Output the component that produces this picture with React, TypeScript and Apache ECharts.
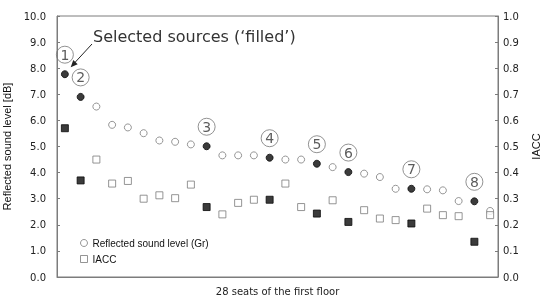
import React, { useEffect, useRef } from "react";
import * as echarts from "echarts";

const seats = ["1","2","3","4","5","6","7","8","9","10","11","12","13","14","15","16","17","18","19","20","21","22","23","24","25","26","27","28"];
const reflectedLevel = [7.77, 6.90, 6.53, 5.83, 5.73, 5.51, 5.23, 5.18, 5.08, 5.01, 4.66, 4.66, 4.66, 4.57, 4.50, 4.50, 4.34, 4.21, 4.02, 3.96, 3.83, 3.38, 3.38, 3.36, 3.32, 2.91, 2.90, 2.53];
const iacc = [0.570, 0.370, 0.450, 0.358, 0.368, 0.300, 0.313, 0.302, 0.354, 0.268, 0.240, 0.284, 0.296, 0.296, 0.358, 0.268, 0.243, 0.294, 0.211, 0.256, 0.224, 0.218, 0.205, 0.262, 0.237, 0.233, 0.135, 0.237];
const selectedSeats = ["1", "2", "10", "14", "17", "19", "23", "27"];
const leftTicks = { min: 0, max: 10, interval: 1 };
const rightTicks = { min: 0, max: 1, interval: 0.1 };
const seriesNames = ["Reflected sound level (Gr)", "IACC"];

const OPEN = "#7a7a7a";
const FILL = "#0a0a0a";

export default function App() {
  const ref = useRef<HTMLDivElement>(null);
  useEffect(() => {
    if (!ref.current) return;
    const chart = echarts.init(ref.current, undefined, { renderer: "svg" });
    const selIndex = (i: number) => selectedSeats.indexOf(seats[i]);
    const lvlData = reflectedLevel.map((v, i) => {
      const s = selIndex(i);
      return s >= 0
        ? { value: v, itemStyle: { color: FILL, borderColor: FILL }, label: { show: true } }
        : { value: v, itemStyle: { color: "#fff", borderColor: OPEN } };
    });
    const iaccData = iacc.map((v, i) => {
      const s = selIndex(i);
      return s >= 0
        ? { value: v, itemStyle: { color: FILL, borderColor: FILL } }
        : { value: v, itemStyle: { color: "#fff", borderColor: OPEN } };
    });
    const axisColor = "#7c7c7c";
    chart.setOption({
      animation: false,
      grid: {
        left: 57, right: 43, top: 16, bottom: 20,
        show: true, borderColor: axisColor, borderWidth: 1,
        containLabel: false, outerBoundsMode: "none",
      },
      legend: {
        orient: "vertical",
        left: 80,
        top: 238,
        padding: 0,
        itemWidth: 7,
        itemHeight: 7,
        itemGap: 6,
        textStyle: { fontFamily: "Liberation Sans", fontSize: 10, color: "#111" },
        data: [
          { name: seriesNames[0], icon: "circle", itemStyle: { color: "#fff", borderColor: OPEN, borderWidth: 1 } },
          { name: seriesNames[1], icon: "rect", itemStyle: { color: "#fff", borderColor: OPEN, borderWidth: 1 } },
        ],
      },
      xAxis: {
        type: "category",
        data: seats,
        boundaryGap: true,
        axisLine: { lineStyle: { color: axisColor, width: 1 } },
        axisTick: { show: false },
        axisLabel: { show: false },
        splitLine: { show: false },
        name: "28 seats of the first floor",
        nameLocation: "middle",
        nameGap: 9,
        nameTextStyle: { fontFamily: "DejaVu Sans", fontSize: 10, color: "#222" },
      },
      yAxis: [
        {
          type: "value",
          position: "left",
          min: leftTicks.min,
          max: leftTicks.max,
          interval: leftTicks.interval,
          axisLine: { show: true, lineStyle: { color: axisColor, width: 1 } },
          axisTick: { show: true, length: 3, inside: true, lineStyle: { color: axisColor } },
          axisLabel: { margin: 11, fontFamily: "DejaVu Sans", fontSize: 10, color: "#222", formatter: (v: number) => v.toFixed(1) },
          splitLine: { show: false },
          name: "Reflected sound level [dB]",
          nameLocation: "middle",
          nameRotate: 90,
          nameGap: 40,
          nameTextStyle: { fontFamily: "Liberation Sans", fontSize: 11, color: "#111" },
        },
        {
          type: "value",
          position: "right",
          min: rightTicks.min,
          max: rightTicks.max,
          interval: rightTicks.interval,
          axisLine: { show: true, lineStyle: { color: axisColor, width: 1 } },
          axisTick: { show: true, length: 3, inside: true, lineStyle: { color: axisColor } },
          axisLabel: { margin: 5, fontFamily: "DejaVu Sans", fontSize: 10, color: "#222", formatter: (v: number) => v.toFixed(1) },
          splitLine: { show: false },
          name: "IACC",
          nameLocation: "middle",
          nameRotate: 90,
          nameGap: 32,
          nameTextStyle: { fontFamily: "Liberation Sans", fontSize: 11, color: "#111" },
        },
      ],
      series: [
        {
          name: seriesNames[0],
          type: "scatter",
          yAxisIndex: 0,
          symbol: "circle",
          symbolSize: 7,
          itemStyle: { borderWidth: 1 },
          data: lvlData,
          label: {
            show: false,
            position: "top",
            distance: 7,
            formatter: (p: any) => String(selIndex(p.dataIndex) + 1),
            fontFamily: "DejaVu Sans",
            fontSize: 14,
            color: "#333",
            width: 17,
            height: 17,
            lineHeight: 17,
            borderColor: "#777",
            borderWidth: 1,
            borderRadius: 9,
            padding: 0,
            rich: {},
          },
          emphasis: { disabled: true },
        },
        {
          name: seriesNames[1],
          type: "scatter",
          yAxisIndex: 1,
          symbol: "rect",
          symbolSize: 7,
          itemStyle: { borderWidth: 1 },
          data: iaccData,
          emphasis: { disabled: true },
        },
      ],
      graphic: [
        {
          type: "text",
          left: 93,
          top: 28,
          style: { text: "Selected sources (\u2018filled\u2019)", fontFamily: "DejaVu Sans", fontSize: 16, fill: "#333" },
        },
        {
          type: "line",
          shape: { x1: 92, y1: 44, x2: 74, y2: 63.5 },
          style: { stroke: "#222", lineWidth: 1 },
        },
        {
          type: "polygon",
          shape: { points: [[70.7, 67.3], [77.7, 64.3], [73.3, 60.1]] },
          style: { fill: "#222" },
        },
      ],
    });
    return () => chart.dispose();
  }, []);
  return <div ref={ref} style={{ position: "fixed", left: 0, top: 0, width: 541, height: 297 }} />;
}
